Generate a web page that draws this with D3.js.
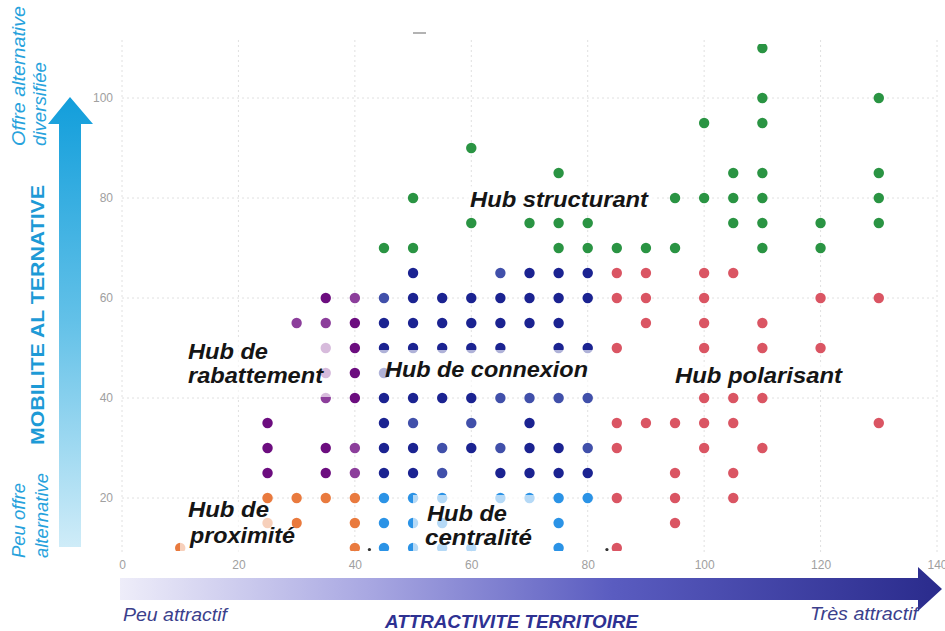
<!DOCTYPE html>
<html><head><meta charset="utf-8">
<script src="https://cdn.jsdelivr.net/npm/d3@7"></script>
<style>
html,body{margin:0;padding:0;background:#fff;}
svg{display:block;font-family:"Liberation Sans",Arial,sans-serif;}
</style>
</head><body>
<svg id="c" width="945" height="631"></svg>
<script>
// ---------- DATA ----------
const xTicks = [0, 20, 40, 60, 80, 100, 120, 140];
const yTicks = [20, 40, 60, 80, 100];

const proximite = [[10,10],[25,20],[30,20],[35,20],[40,20],[25,15],[30,15],[40,15],[40,10]];
const rabattementDark = [[35,60],[40,55],[40,50],[40,45],[25,35],[25,30],[35,30],[25,25],[35,25],[40,40]];
const rabattementMid = [[40,60],[30,55],[35,55],[35,50],[35,45],[35,40],[40,30],[40,25]];
const connexionDark = [
  [50,65],[70,65],[75,65],[80,65],
  [50,60],[55,60],[60,60],[65,60],[70,60],[75,60],[80,60],
  [45,55],[50,55],[55,55],[60,55],[65,55],[70,55],[75,55],
  [45,50],[50,50],[55,50],[60,50],[65,50],[75,50],[80,50],
  [45,45],
  [45,40],[50,40],[55,40],[60,40],
  [45,35],[70,35],
  [45,30],[50,30],[60,30],[70,30],[75,30],
  [45,25],[50,25],[65,25],[70,25],[75,25],[80,25]
];
const connexionMid = [
  [65,65],[45,60],
  [65,40],[70,40],[75,40],[80,40],
  [50,35],[60,35],
  [55,30],[65,30],[80,30],
  [55,25]
];
const centralite = [
  [45,20],[50,20],[55,20],[65,20],[70,20],[75,20],[80,20],
  [45,15],[50,15],[55,15],[75,15],
  [45,10],[50,10],[55,10],[60,10],[75,10]
];
const polarisant = [
  [85,65],[90,65],[100,65],[105,65],
  [85,60],[90,60],[100,60],[120,60],[130,60],
  [90,55],[100,55],[110,55],
  [85,50],[100,50],[110,50],[120,50],
  [100,40],[105,40],[110,40],
  [85,35],[90,35],[95,35],[100,35],[105,35],[130,35],
  [85,30],[100,30],[110,30],
  [95,25],[105,25],
  [85,20],[95,20],[105,20],
  [95,15],
  [85,10]
];
const structurant = [
  [110,110],
  [110,100],[130,100],
  [100,95],[110,95],
  [60,90],
  [75,85],[105,85],[110,85],[130,85],
  [50,80],[95,80],[100,80],[105,80],[110,80],[130,80],
  [60,75],[70,75],[75,75],[80,75],[105,75],[110,75],[120,75],[130,75],
  [45,70],[50,70],[75,70],[80,70],[85,70],[90,70],[95,70],[110,70],[120,70]
];
const strays = [[42.5,9.7],[83.3,9.7]];

const hubLabels = [
  {id:"structurant", lines:["Hub structurant"]},
  {id:"rabattement", lines:["Hub de","rabattement"]},
  {id:"connexion",   lines:["Hub de connexion"]},
  {id:"polarisant",  lines:["Hub polarisant"]},
  {id:"proximite",   lines:["Hub de","proximité"]},
  {id:"centralite",  lines:["Hub de","centralité"]}
];
const yTitle = "MOBILITE AL TERNATIVE";
const yHigh = ["Offre alternative","diversifiée"];
const yLow = ["Peu offre","alternative"];
const xTitle = "ATTRACTIVITE TERRITOIRE";
const xLow = "Peu attractif";
const xHigh = "Très attractif";

// ---------- LAYOUT / STYLE ----------
const x = d3.scaleLinear().domain([0,140]).range([122,937]);
const y = d3.scaleLinear().domain([10,110]).range([548,48]);
const svg = d3.select("#c");
const defs = svg.append("defs");

const vg = defs.append("linearGradient").attr("id","vg").attr("x1",0).attr("y1",1).attr("x2",0).attr("y2",0);
vg.append("stop").attr("offset",0).attr("stop-color","#cfecf8");
vg.append("stop").attr("offset",0.5).attr("stop-color","#63c1e8");
vg.append("stop").attr("offset",1).attr("stop-color","#129edb");

const hg = defs.append("linearGradient").attr("id","hg").attr("x1",0).attr("y1",0).attr("x2",1).attr("y2",0);
hg.append("stop").attr("offset",0).attr("stop-color","#eeedf9");
hg.append("stop").attr("offset",0.3).attr("stop-color","#a9a8e2");
hg.append("stop").attr("offset",0.6).attr("stop-color","#5a5cc0");
hg.append("stop").attr("offset",1).attr("stop-color","#2a2b8c");

defs.append("clipPath").attr("id","plotclip").append("rect")
  .attr("x",100).attr("y",44).attr("width",845).attr("height",507);

// grid
const grid = svg.append("g");
grid.selectAll("line.v").data(xTicks).join("line").attr("class","v")
  .attr("x1",d=>x(d)).attr("x2",d=>x(d)).attr("y1",40).attr("y2",552)
  .attr("stroke","#e0e0e0").attr("stroke-width",1).attr("stroke-dasharray","2,3");
grid.selectAll("line.h").data(yTicks).join("line").attr("class","h")
  .attr("x1",x(0)).attr("x2",x(140)).attr("y1",d=>y(d)).attr("y2",d=>y(d))
  .attr("stroke","#e0e0e0").attr("stroke-width",1).attr("stroke-dasharray","2,3");

// axes
const yAxis = svg.append("g").attr("transform","translate(113,0)")
  .call(d3.axisLeft(y).tickValues(yTicks).tickSize(0).tickPadding(0));
yAxis.select(".domain").remove();
const xAxis = svg.append("g").attr("transform","translate(0,560)")
  .call(d3.axisBottom(x).tickValues(xTicks).tickSize(0).tickPadding(0));
xAxis.select(".domain").remove();
svg.selectAll(".tick text").attr("fill","#a0a0a0")
  .style("font-size","12px").style("font-family","'Liberation Sans',Arial,sans-serif");

// small dash at top
svg.append("line").attr("x1",413).attr("x2",426).attr("y1",33).attr("y2",33)
  .attr("stroke","#9a9a9a").attr("stroke-width",1.5);

// dots
const plot = svg.append("g").attr("clip-path","url(#plotclip)");
const series = [
  {data:proximite, color:"#e97a3e"},
  {data:rabattementDark, color:"#6c0d7f"},
  {data:rabattementMid, color:"#8c3e9b"},
  {data:connexionDark, color:"#1b2391"},
  {data:connexionMid, color:"#4150aa"},
  {data:centralite, color:"#2b93e6"},
  {data:polarisant, color:"#da5563"},
  {data:structurant, color:"#2a9443"}
];
series.forEach(s=>{
  plot.append("g").selectAll("circle").data(s.data).join("circle")
    .attr("cx",d=>x(d[0])).attr("cy",d=>y(d[1])).attr("r",5.2).attr("fill",s.color);
});
plot.append("g").selectAll("circle").data(strays).join("circle")
  .attr("cx",d=>x(d[0])).attr("cy",d=>y(d[1])).attr("r",1.6).attr("fill","#333");

// label boxes + labels
const labelLayout = {
  structurant:{lines:[[470,207,178]], box:[465,186,655,214]},
  rabattement:{lines:[[188,359,80],[188,383,135]], box:[180,338,333,397]},
  connexion:{lines:[[385,377,203]], box:[373,350,598,391]},
  polarisant:{lines:[[675,383,167]], box:[668,362,850,390]},
  proximite:{lines:[[188,517,81],[190,543,105]], box:[180,505,292,560]},
  centralite:{lines:[[427,521,80],[425,545,107]], box:[413,495,545,560]}
};
const lg = svg.append("g");
hubLabels.forEach(l=>{
  const L = labelLayout[l.id];
  lg.append("rect").attr("x",L.box[0]).attr("y",L.box[1])
    .attr("width",L.box[2]-L.box[0]).attr("height",L.box[3]-L.box[1])
    .attr("fill","#fff").attr("fill-opacity",0.65);
  l.lines.forEach((t,i)=>{
    const p = L.lines[i];
    lg.append("text").attr("x",p[0]).attr("y",p[1]).text(t)
      .attr("textLength",p[2]).attr("lengthAdjust","spacingAndGlyphs")
      .attr("fill","#151515").style("font-size","22px")
      .style("font-weight","bold").style("font-style","italic");
  });
});

// vertical arrow
svg.append("path").attr("d","M59,547 L81,547 L81,124 L93,124 L70,97 L48,124 L59,124 Z")
  .attr("fill","url(#vg)");
// horizontal arrow
svg.append("path").attr("d","M120,578 L918,578 L918,567 L942,589 L918,611 L918,600 L120,600 Z")
  .attr("fill","url(#hg)");

// y titles
svg.append("text").attr("transform","translate(44,315) rotate(-90)")
  .attr("text-anchor","middle").attr("textLength",260).attr("lengthAdjust","spacingAndGlyphs")
  .attr("fill","#1d9ad6").style("font-size","19px").style("font-weight","bold").text(yTitle);
const sideLayout = [[25,146,140],[46,146,84]];
yHigh.forEach((t,i)=>{
  svg.append("text").attr("transform",`translate(${sideLayout[i][0]},${sideLayout[i][1]}) rotate(-90)`)
    .attr("textLength",sideLayout[i][2]).attr("lengthAdjust","spacingAndGlyphs")
    .attr("fill","#27a2dc").style("font-size","19px").style("font-style","italic").text(t);
});
const lowLayout = [[25,558,75],[48,558,85]];
yLow.forEach((t,i)=>{
  svg.append("text").attr("transform",`translate(${lowLayout[i][0]},${lowLayout[i][1]}) rotate(-90)`)
    .attr("textLength",lowLayout[i][2]).attr("lengthAdjust","spacingAndGlyphs")
    .attr("fill","#27a2dc").style("font-size","19px").style("font-style","italic").text(t);
});

// x titles
svg.append("text").attr("x",123).attr("y",621).attr("textLength",104).attr("lengthAdjust","spacingAndGlyphs")
  .attr("fill","#3b3f8c").style("font-size","19px").style("font-style","italic").text(xLow);
svg.append("text").attr("x",810).attr("y",620).attr("textLength",108).attr("lengthAdjust","spacingAndGlyphs")
  .attr("fill","#3b3f8c").style("font-size","19px").style("font-style","italic").text(xHigh);
svg.append("text").attr("x",385).attr("y",628).attr("textLength",253).attr("lengthAdjust","spacingAndGlyphs")
  .attr("fill","#2e3192").style("font-size","18px").style("font-weight","bold").style("font-style","italic").text(xTitle);
</script>
</body></html>
